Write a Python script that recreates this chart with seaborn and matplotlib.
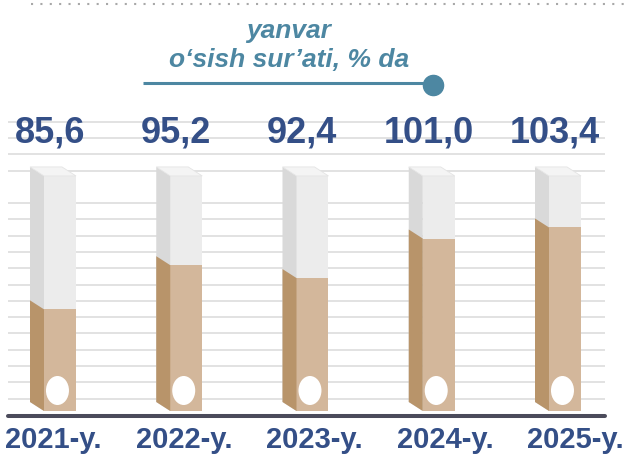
import numpy as np
import pandas as pd
import matplotlib
matplotlib.use("Agg")
import matplotlib.pyplot as plt
import matplotlib.transforms as mtransforms
from matplotlib.patches import Polygon, Ellipse
from matplotlib.lines import Line2D
import seaborn as sns

# ---- data ----
years = ["2021-y.", "2022-y.", "2023-y.", "2024-y.", "2025-y."]
growth = [85.6, 95.2, 92.4, 101.0, 103.4]
value_labels = ["85,6", "95,2", "92,4", "101,0", "103,4"]
title_top = "yanvar"
title_bottom = "o‘sish sur’ati, % da"

# ---- gauge look ----
BASE = 63.5          # value at the bottom of the gauges
GAUGE_TOP = 114.6    # value at the top of the grey gauges
PX_PER_UNIT = 4.6    # vertical pixels per value unit
PX_PER_CAT = 126.25  # horizontal pixels between bars
BAR_W = 32 / PX_PER_CAT
SIDE_DX = 14 / PX_PER_CAT
SIDE_DY = 9 / PX_PER_UNIT

GREY_FRONT, GREY_SIDE, GREY_TOP = "#ececec", "#d9d9d9", "#f4f4f4"
FILL_FRONT, FILL_SIDE = "#d3b79b", "#b8946a"
NAVY = "#344f87"
TEAL = "#4d87a2"

sns.set_style("white")
plt.rcParams["font.family"] = ["Liberation Sans", "DejaVu Sans"]

df = pd.DataFrame({"year": years, "value": growth})
df["gauge"] = GAUGE_TOP

W, H = 632, 456
fig = plt.figure(figsize=(W / 100, H / 100), dpi=100)
ax_bot, ax_top = 412, 119
ax_h = ax_bot - ax_top
ax = fig.add_axes([8 / W, (H - ax_bot) / H, (605 - 8) / W, ax_h / H])

# front faces
sns.barplot(data=df, x="year", y="gauge", color=GREY_FRONT, saturation=1,
            width=BAR_W, errorbar=None, ax=ax, zorder=2, linewidth=0)
sns.barplot(data=df, x="year", y="value", color=FILL_FRONT, saturation=1,
            width=BAR_W, errorbar=None, ax=ax, zorder=3, linewidth=0)

# side and top faces
for i, v in enumerate(df["value"]):
    xl = i - BAR_W / 2
    side_grey = [(xl, BASE), (xl, GAUGE_TOP), (xl - SIDE_DX, GAUGE_TOP + SIDE_DY), (xl - SIDE_DX, BASE + SIDE_DY)]
    ax.add_patch(Polygon(side_grey, closed=True, fc=GREY_SIDE, ec="none", zorder=2))
    top_face = [(xl, GAUGE_TOP), (xl + BAR_W, GAUGE_TOP),
                (xl + BAR_W - SIDE_DX, GAUGE_TOP + SIDE_DY), (xl - SIDE_DX, GAUGE_TOP + SIDE_DY)]
    ax.add_patch(Polygon(top_face, closed=True, fc=GREY_TOP, ec="#e4e4e4", lw=0.6, zorder=2))
    side_fill = [(xl, BASE), (xl, v), (xl - SIDE_DX, v + SIDE_DY), (xl - SIDE_DX, BASE + SIDE_DY)]
    ax.add_patch(Polygon(side_fill, closed=True, fc=FILL_SIDE, ec="none", zorder=3))
    ax.add_patch(Ellipse((i - 0.02, BASE + 20.5 / PX_PER_UNIT), width=23 / PX_PER_CAT,
                         height=29 / PX_PER_UNIT, fc="white", ec="none", zorder=4))

# value labels above the gauges, year labels below the axis
trans = mtransforms.blended_transform_factory(ax.transData, ax.transAxes)
for i, (lab, yr) in enumerate(zip(value_labels, years)):
    ax.text(i - 0.08, (ax_bot - 142) / ax_h, lab, transform=trans,
            ha="center", va="baseline", fontsize=26, fontweight="bold", color=NAVY)
    ax.text(i * 1.034 - 0.05, (ax_bot - 448) / ax_h, yr, transform=trans,
            ha="center", va="baseline", fontsize=21, fontweight="bold", color=NAVY)

ax.set_xlim(-52 / PX_PER_CAT, 4 + 40 / PX_PER_CAT)
ax.set_ylim(BASE, BASE + ax_h / PX_PER_UNIT)

# horizontal guide lines
grid_vals = [BASE + (16.3 * k - 4) / PX_PER_UNIT for k in range(1, 19) if k != 14]
ax.set_yticks(grid_vals)
ax.yaxis.grid(True, color="#e2e2e2", lw=1.4)
ax.set_axisbelow(True)
ax.tick_params(axis="y", left=False, labelleft=False)
ax.tick_params(axis="x", length=0, labelbottom=False)
ax.set_xlabel("")
ax.set_ylabel("")

for s in ["left", "right", "top"]:
    ax.spines[s].set_visible(False)
ax.spines["bottom"].set_color("#4b4b5b")
ax.spines["bottom"].set_linewidth(2.9)
ax.spines["bottom"].set_position(("outward", 3.6))
ax.spines["bottom"].set_capstyle("round")

# title block
fig.text(289 / W, 1 - 38 / H, title_top, ha="center", va="baseline", fontsize=19,
         fontstyle="italic", fontweight="bold", color=TEAL)
fig.text(289 / W, 1 - 67 / H, title_bottom, ha="center", va="baseline", fontsize=19,
         fontstyle="italic", fontweight="bold", color=TEAL)
fig.add_artist(Line2D([143 / W, 433 / W], [1 - 83.5 / H] * 2, transform=fig.transFigure,
                      color=TEAL, lw=2.2, solid_capstyle="butt"))
fig.add_artist(Line2D([433 / W], [1 - 85.5 / H], transform=fig.transFigure,
                      marker="o", ms=14.5, color=TEAL, lw=0))
fig.add_artist(Line2D([31 / W, 628 / W], [1 - 5 / H] * 2, transform=fig.transFigure,
                      color="#a8a8a8", lw=1.5, ls=(0, (1, 3.5))))

fig.savefig("out.png", dpi=100)
